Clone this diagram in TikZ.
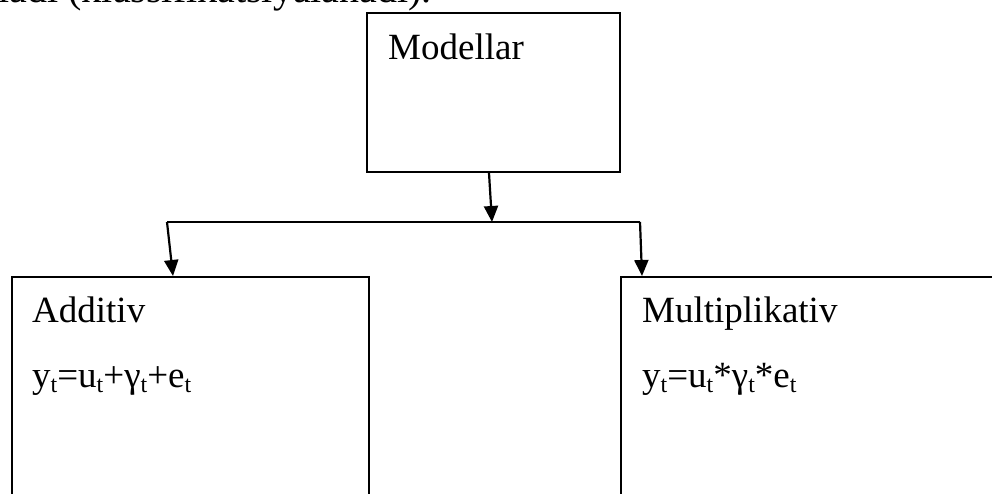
\documentclass[tikz,border=0pt]{standalone}
\usepackage{fontspec}
\setmainfont{Liberation Serif}
\usetikzlibrary{arrows.meta,calc}
% small lowered "t" used as an index in the formulas
\newcommand{\tix}{\raisebox{-0.16em}{\fontsize{24}{24}\selectfont t}}
\begin{document}
\begin{tikzpicture}[x=1pt,y=-1pt,
  frame/.style={draw=black,line width=2.2pt,rectangle,inner sep=0pt},
  label/.style={inner sep=0pt,font=\fontsize{37}{40}\selectfont},
  arr/.style={line width=2.2pt,-{Triangle[length=16pt,width=14pt]}},
  link/.style={line width=2.2pt}]
\useasboundingbox (0,0) rectangle (992,493);
\begin{scope}
\clip (0,0) rectangle (992,493);
% running text above the scheme
\node[inner sep=0pt,anchor=base east,font=\fontsize{40}{44}\selectfont] (line) at (432,2.5) {ladi (klassifikatsiyalanadi).};
% boxes
\node[frame,minimum width=253pt,minimum height=159pt] (mod) at (493.5,92.5) {};
\node[frame,minimum width=357pt,minimum height=260pt,anchor=north west] (add) at (11,276) {};
\node[frame,minimum width=400pt,minimum height=260pt,anchor=north west] (mul) at (620,276) {};
% box texts
\node[label,anchor=base west] (modt) at (388,59) {Modellar};
\node[label,anchor=base west] (addt) at (32,322) {Additiv};
\node[label,anchor=base west] (addf) at (32,387) {y\tix=u\tix+γ\tix+e\tix};
\node[label,anchor=base west] (mult) at (642,322) {Multiplikativ};
\node[label,anchor=base west] (mulf) at (642,387) {y\tix=u\tix*γ\tix*e\tix};
% connectors
\coordinate (j) at (492,222);
\coordinate (jl) at (167,222);
\coordinate (jr) at (640,222);
\draw[arr] ($(mod.south)+(-4.5,0)$) -- (j);
\draw[link] (jl) -- (jr);
\draw[arr] (jl) -- ($(add.north west)+(162,0)$);
\draw[arr] (jr) -- ($(mul.north west)+(22,0)$);
\end{scope}
\end{tikzpicture}
\end{document}
